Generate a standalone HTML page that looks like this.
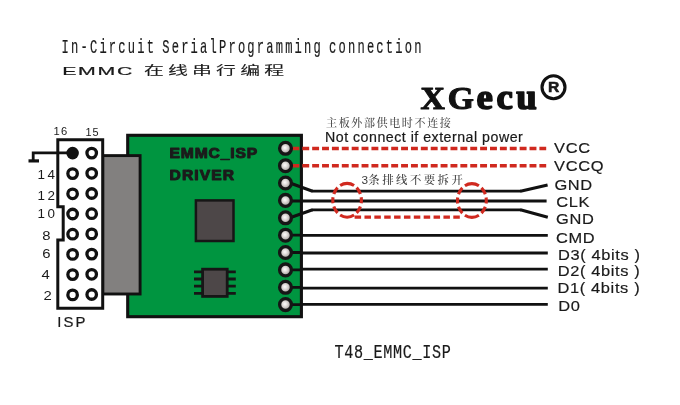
<!DOCTYPE html>
<html lang="zh">
<head>
<meta charset="utf-8">
<title>T48 EMMC ISP - In-Circuit Serial Programming connection</title>
<style>
html,body{margin:0;padding:0;background:#fff;}
body{width:680px;height:405px;overflow:hidden;position:relative;}
svg{display:block;position:absolute;left:0;top:0;will-change:transform;}
text{fill:#1a1a1a;white-space:pre;}
.mono{font-family:"Liberation Mono","IPAGothic",monospace;fill:#1a1a1a;stroke:#1a1a1a;stroke-width:0.2px;}
.wide{font-family:"Liberation Sans","Noto Sans CJK SC",sans-serif;fill:#1a1a1a;stroke:#1a1a1a;stroke-width:0.22px;}
.sans{font-family:"Liberation Sans","Noto Sans CJK SC",sans-serif;}
.song{font-family:"Liberation Serif","Noto Serif CJK SC",serif;fill:#4c4c4c;}
.lbl{font-family:"Liberation Sans",sans-serif;fill:#1a1a1a;stroke:#1a1a1a;stroke-width:0.18px;}
.num{font-family:"Liberation Sans",sans-serif;fill:#1a1a1a;}
.pcb{font-family:"Liberation Sans",sans-serif;font-weight:bold;fill:#1b1b1b;stroke:#1b1b1b;stroke-width:1px;stroke-linejoin:round;}
.logo{font-family:"Liberation Serif",serif;font-weight:bold;fill:#111;stroke:#111;stroke-width:1.1px;stroke-linejoin:round;}
</style>
</head>
<body>
<svg width="680" height="405" viewBox="0 0 680 405">
<defs>
<radialGradient id="pad" cx="0.45" cy="0.45" r="0.6">
<stop offset="0" stop-color="#fdfcfc"/>
<stop offset="0.3" stop-color="#e4e0de"/>
<stop offset="1" stop-color="#8e8785"/>
</radialGradient>
</defs>
<rect x="0" y="0" width="680" height="405" fill="#ffffff"/>

<text class="mono" transform="translate(61.6 52.8) scale(0.59 1)" font-size="20.5" letter-spacing="3.72" word-spacing="-5.6">In-Circuit SerialProgramming connection</text>
<text class="wide" transform="translate(62.2 74.6) scale(1.9 1)" font-size="11.2" letter-spacing="0.9">EMMC</text>
<text class="wide" transform="translate(143.9 75.3) scale(1.66 1)" font-size="12.0" letter-spacing="2.5" style="stroke-width:0.1px">在线串行编程</text>
<text class="logo" transform="translate(420.6 108.9) scale(1.04 1)" font-size="32.4" letter-spacing="2.6">XG<tspan font-size="35.4" letter-spacing="3.4" stroke-width="1.6">ecu</tspan></text>
<circle cx="553.5" cy="87.2" r="11.5" fill="#fff" stroke="#111" stroke-width="3.1"/>
<text transform="translate(548.1 92.4) scale(1.02 1)" font-family="Liberation Sans, sans-serif" font-weight="bold" font-size="15.4" fill="#111" stroke="#111" stroke-width="0.5">R</text>
<text class="song" transform="translate(326 126.7)" font-size="11.1" letter-spacing="1.55" style="font-weight:500">主板外部供电时不连接</text>
<text class="sans" transform="translate(325 142)" font-size="14.2" letter-spacing="0.5" stroke="#1a1a1a" stroke-width="0.2">Not connect if external power</text>
<text class="song" transform="translate(361.6 184.4)" font-size="11.4" letter-spacing="2.45" style="fill:#3c3c3c;font-weight:500"><tspan font-family="Liberation Sans, sans-serif" font-size="11.8" letter-spacing="0.2">3</tspan>条排线不要拆开</text>
<rect x="127.7" y="135.3" width="173.7" height="181.4" fill="#009540" stroke="#111" stroke-width="3.1"/>
<rect x="102.7" y="155.6" width="37.4" height="138.4" fill="#82807f" stroke="#111" stroke-width="2.9"/>
<path d="M57.8 139.7 H102.7 V308.3 H57.8 V240 H63.2 V206.7 H57.8 Z" fill="#fff" stroke="#111" stroke-width="3" stroke-linejoin="miter"/>
<path d="M72 152.9 H33.2 V160.7" fill="none" stroke="#111" stroke-width="2.8"/>
<path d="M28.5 160.9 H39" fill="none" stroke="#111" stroke-width="3.2"/>
<circle cx="72.6" cy="153.1" r="6.3" fill="#111"/>
<circle cx="91.7" cy="153.1" r="4.75" fill="#fff" stroke="#111" stroke-width="3.3"/>
<circle cx="72.6" cy="173.6" r="4.75" fill="#fff" stroke="#111" stroke-width="3.3"/>
<circle cx="91.7" cy="173.3" r="4.75" fill="#fff" stroke="#111" stroke-width="3.3"/>
<circle cx="72.6" cy="193.8" r="4.75" fill="#fff" stroke="#111" stroke-width="3.3"/>
<circle cx="91.7" cy="193.5" r="4.75" fill="#fff" stroke="#111" stroke-width="3.3"/>
<circle cx="72.6" cy="214.0" r="4.75" fill="#fff" stroke="#111" stroke-width="3.3"/>
<circle cx="91.7" cy="213.7" r="4.75" fill="#fff" stroke="#111" stroke-width="3.3"/>
<circle cx="72.6" cy="234.2" r="4.75" fill="#fff" stroke="#111" stroke-width="3.3"/>
<circle cx="91.7" cy="233.9" r="4.75" fill="#fff" stroke="#111" stroke-width="3.3"/>
<circle cx="72.6" cy="254.4" r="4.75" fill="#fff" stroke="#111" stroke-width="3.3"/>
<circle cx="91.7" cy="254.1" r="4.75" fill="#fff" stroke="#111" stroke-width="3.3"/>
<circle cx="72.6" cy="274.6" r="4.75" fill="#fff" stroke="#111" stroke-width="3.3"/>
<circle cx="91.7" cy="274.3" r="4.75" fill="#fff" stroke="#111" stroke-width="3.3"/>
<circle cx="72.6" cy="294.9" r="4.75" fill="#fff" stroke="#111" stroke-width="3.3"/>
<circle cx="91.7" cy="294.5" r="4.75" fill="#fff" stroke="#111" stroke-width="3.3"/>
<text class="num" transform="translate(53.6 135.0)" font-size="11.2" letter-spacing="1.3">16</text>
<text class="num" transform="translate(85.4 136.1)" font-size="10.9" letter-spacing="1.0">15</text>
<text class="num" transform="translate(37.4 178.5) scale(1.1 1)" font-size="12.2" letter-spacing="2.4">14</text>
<text class="num" transform="translate(37.4 199.6) scale(1.1 1)" font-size="12.2" letter-spacing="2.4">12</text>
<text class="num" transform="translate(37.4 218.3) scale(1.1 1)" font-size="12.2" letter-spacing="2.4">10</text>
<text class="num" transform="translate(42.2 239.6) scale(1.22 1)" font-size="12.2">8</text>
<text class="num" transform="translate(42.2 258.2) scale(1.22 1)" font-size="12.2">6</text>
<text class="num" transform="translate(41.6 278.8) scale(1.22 1)" font-size="12.2">4</text>
<text class="num" transform="translate(43.6 300) scale(1.22 1)" font-size="12.2">2</text>
<text class="num" transform="translate(57.2 326.5) scale(1.05 1)" font-size="14.2" letter-spacing="2.0" stroke="#1a1a1a" stroke-width="0.2">ISP</text>
<text class="pcb" transform="translate(169.6 157.9) scale(1.1 1)" font-size="14.2" letter-spacing="0.78">EMMC_ISP</text>
<text class="pcb" transform="translate(169.6 180.0) scale(1.1 1)" font-size="14.2" letter-spacing="1.0">DRIVER</text>
<rect x="195.9" y="200.4" width="37.6" height="40.6" fill="#4d4748" stroke="#161616" stroke-width="2.5"/>
<path d="M194 271.8 H235.8" stroke="#161616" stroke-width="2.8" fill="none"/>
<path d="M194 279.0 H235.8" stroke="#161616" stroke-width="2.8" fill="none"/>
<path d="M194 286.2 H235.8" stroke="#161616" stroke-width="2.8" fill="none"/>
<path d="M194 293.3 H235.8" stroke="#161616" stroke-width="2.8" fill="none"/>
<rect x="202.6" y="269.2" width="24.6" height="27.2" fill="#4d4748" stroke="#161616" stroke-width="2.8"/>
<path d="M292.4 148.4 H546.2" stroke="#d0291f" stroke-width="3.5" stroke-dasharray="6.92 2.96" fill="none"/>
<path d="M292.4 165.8 H546.2" stroke="#d0291f" stroke-width="3.5" stroke-dasharray="6.92 2.96" fill="none"/>
<path d="M312 191.2 H521" stroke="#111" stroke-width="2.8" fill="none"/>
<path d="M290 183.0 L312.6 191.3 M520.4 191.3 L547.6 184.9" stroke="#111" stroke-width="3.1" fill="none" stroke-linecap="butt"/>
<path d="M290 201 H546.6" stroke="#111" stroke-width="2.8" fill="none"/>
<path d="M312 209.9 H521" stroke="#111" stroke-width="2.8" fill="none"/>
<path d="M290 217.8 L312.6 209.8 M520.4 209.8 L547.8 217.2" stroke="#111" stroke-width="3.1" fill="none" stroke-linecap="butt"/>
<path d="M290 235.2 H300 L303 235.3 H547.8" stroke="#111" stroke-width="2.8" fill="none" stroke-linejoin="round"/>
<path d="M290 252.5 H300 L303 253 H547.8" stroke="#111" stroke-width="2.8" fill="none" stroke-linejoin="round"/>
<path d="M290 269.9 H300 L303 269.2 H547.8" stroke="#111" stroke-width="2.8" fill="none" stroke-linejoin="round"/>
<path d="M290 287.3 H300 L303 288.1 H547.8" stroke="#111" stroke-width="2.8" fill="none" stroke-linejoin="round"/>
<path d="M290 304.6 H300 L303 304.4 H547.8" stroke="#111" stroke-width="2.8" fill="none" stroke-linejoin="round"/>
<ellipse cx="347.1" cy="200.3" rx="14.3" ry="16.9" pathLength="98.8" fill="none" stroke="#d0291f" stroke-width="3.1" stroke-dasharray="6.2 3.3 7.5 3.3 15 3.3 7.5 3.3 6.2 3.3 7.5 3.3 15 3.3 7.5 3.3" stroke-dashoffset="3.1"/>
<ellipse cx="471.9" cy="200.5" rx="14.4" ry="16.9" pathLength="98.8" fill="none" stroke="#d0291f" stroke-width="3.1" stroke-dasharray="6.2 3.3 7.5 3.3 15 3.3 7.5 3.3 6.2 3.3 7.5 3.3 15 3.3 7.5 3.3" stroke-dashoffset="3.1"/>
<path d="M354.6 217.1 H461" stroke="#d0291f" stroke-width="3.4" stroke-dasharray="6.5 3.37" fill="none"/>
<circle cx="285.5" cy="148.3" r="5.9" fill="url(#pad)" stroke="#161616" stroke-width="3.3"/>
<circle cx="285.5" cy="165.7" r="5.9" fill="url(#pad)" stroke="#161616" stroke-width="3.3"/>
<circle cx="285.5" cy="183.0" r="5.9" fill="url(#pad)" stroke="#161616" stroke-width="3.3"/>
<circle cx="285.5" cy="200.4" r="5.9" fill="url(#pad)" stroke="#161616" stroke-width="3.3"/>
<circle cx="285.5" cy="217.8" r="5.9" fill="url(#pad)" stroke="#161616" stroke-width="3.3"/>
<circle cx="285.5" cy="235.2" r="5.9" fill="url(#pad)" stroke="#161616" stroke-width="3.3"/>
<circle cx="285.5" cy="252.5" r="5.9" fill="url(#pad)" stroke="#161616" stroke-width="3.3"/>
<circle cx="285.5" cy="269.9" r="5.9" fill="url(#pad)" stroke="#161616" stroke-width="3.3"/>
<circle cx="285.5" cy="287.3" r="5.9" fill="url(#pad)" stroke="#161616" stroke-width="3.3"/>
<circle cx="285.5" cy="304.6" r="5.9" fill="url(#pad)" stroke="#161616" stroke-width="3.3"/>
<text class="lbl" transform="translate(554.1 153) scale(1.06 1)" font-size="15.5" letter-spacing="0.6">VCC</text>
<text class="lbl" transform="translate(554.1 171.2) scale(1.06 1)" font-size="15.5" letter-spacing="0.6">VCCQ</text>
<text class="lbl" transform="translate(554.4 189.7) scale(1.06 1)" font-size="15.5" letter-spacing="0.6">GND</text>
<text class="lbl" transform="translate(556.2 207.1) scale(1.06 1)" font-size="15.5" letter-spacing="0.6">CLK</text>
<text class="lbl" transform="translate(556.0 224.4) scale(1.06 1)" font-size="15.5" letter-spacing="0.6">GND</text>
<text class="lbl" transform="translate(555.9 243) scale(1.06 1)" font-size="15.5" letter-spacing="0.6">CMD</text>
<text class="lbl" transform="translate(557.9 259.8) scale(1.06 1)" font-size="15.5" letter-spacing="0.6">D3( 4bits )</text>
<text class="lbl" transform="translate(557.7 275.6) scale(1.06 1)" font-size="15.5" letter-spacing="0.6">D2( 4bits )</text>
<text class="lbl" transform="translate(557.5 292.8) scale(1.06 1)" font-size="15.5" letter-spacing="0.6">D1( 4bits )</text>
<text class="lbl" transform="translate(558.2 310.7) scale(1.06 1)" font-size="15.5" letter-spacing="0.6">D0</text>
<text class="mono" transform="translate(334.4 358.3) scale(0.735 1)" font-size="20.6" letter-spacing="0.93">T48_EMMC_ISP</text>
</svg>
</body>
</html>
